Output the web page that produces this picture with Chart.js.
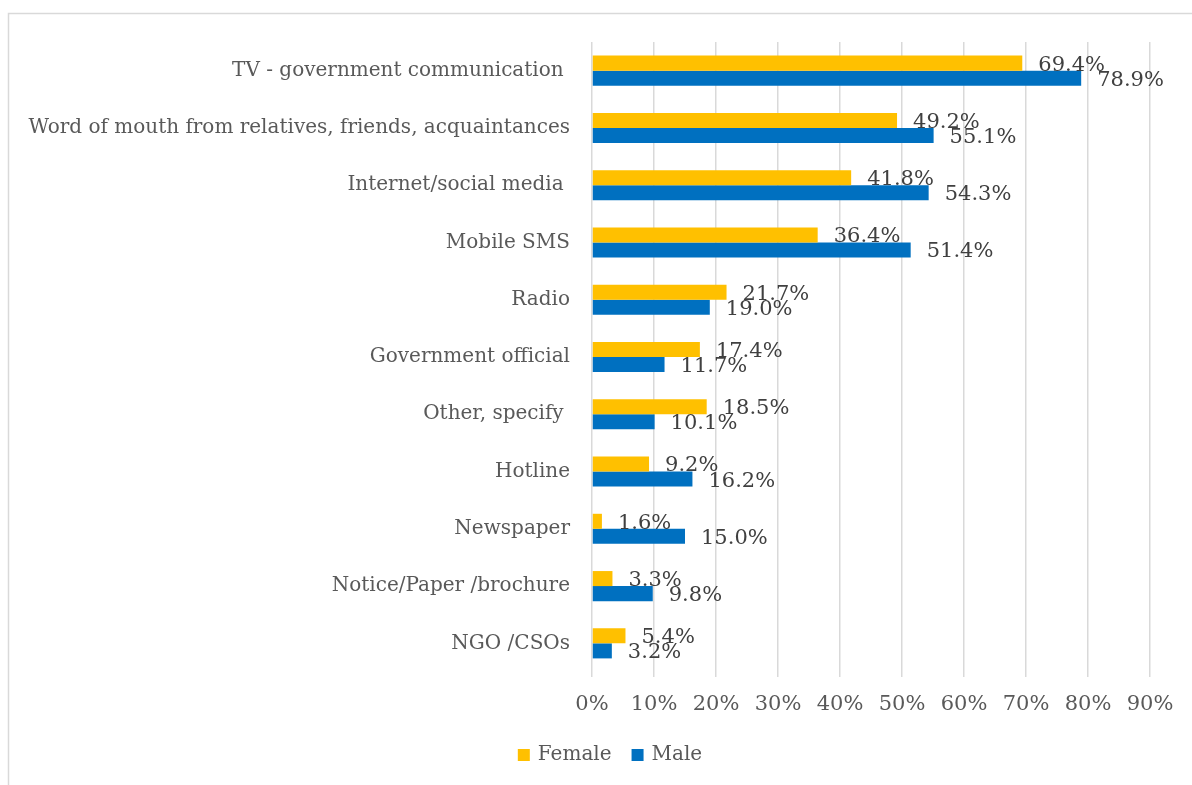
<!DOCTYPE html>
<html>
<head>
<meta charset="utf-8">
<script src="https://cdn.jsdelivr.net/npm/chart.js@4"></script>
<style>
html,body{margin:0;padding:0;background:#fff;}
#wrap{width:1192px;height:785px;position:relative;}
</style>
</head>
<body>
<div id="wrap"><canvas id="c" width="1192" height="785"></canvas></div>
<script>
const categories = [
  "TV - government communication ",
  "Word of mouth from relatives, friends, acquaintances",
  "Internet/social media ",
  "Mobile SMS",
  "Radio",
  "Government official",
  "Other, specify ",
  "Hotline",
  "Newspaper",
  "Notice/Paper /brochure",
  "NGO /CSOs"
];
const femaleValues = [69.4, 49.2, 41.8, 36.4, 21.7, 17.4, 18.5, 9.2, 1.6, 3.3, 5.4];
const maleValues   = [78.9, 55.1, 54.3, 51.4, 19.0, 11.7, 10.1, 16.2, 15.0, 9.8, 3.2];
const xTicks = [0, 10, 20, 30, 40, 50, 60, 70, 80, 90];

const FONT = "'DejaVu Serif', serif";

const framePlugin = {
  id: 'frame',
  beforeDraw(chart) {
    const ctx = chart.ctx;
    ctx.save();
    ctx.strokeStyle = '#d9d9d9';
    ctx.lineWidth = 1.5;
    ctx.strokeRect(8.5, 13.5, 1300, 900);
    ctx.restore();
  }
};

const labelPlugin = {
  id: 'barLabels',
  afterDatasetsDraw(chart) {
    const ctx = chart.ctx;
    ctx.save();
    ctx.font = "21px " + FONT;
    ctx.fillStyle = '#404040';
    ctx.textAlign = 'left';
    ctx.textBaseline = 'middle';
    chart.data.datasets.forEach((ds, di) => {
      const meta = chart.getDatasetMeta(di);
      meta.data.forEach((el, i) => {
        ctx.fillText(ds.data[i].toFixed(1) + '%', el.x + 16, el.y + 2);
      });
    });
    ctx.restore();
  }
};

const legendPlugin = {
  id: 'customLegend',
  afterDraw(chart) {
    const ctx = chart.ctx;
    ctx.save();
    ctx.font = "20px " + FONT;
    ctx.textBaseline = 'middle';
    ctx.textAlign = 'left';
    const box = 12, gap = 8, itemGap = 20;
    const items = chart.data.datasets.map(ds => ({ text: ds.label, color: ds.backgroundColor, w: ctx.measureText(ds.label).width }));
    let total = 0;
    items.forEach((it, i) => { total += box + gap + it.w + (i ? itemGap : 0); });
    let x = 610 - total / 2;
    const cy = 755;
    items.forEach((it) => {
      ctx.fillStyle = it.color;
      ctx.fillRect(x, cy - box / 2, box, box);
      ctx.fillStyle = '#595959';
      ctx.fillText(it.text, x + box + gap, cy);
      x += box + gap + it.w + itemGap;
    });
    ctx.restore();
  }
};

new Chart(document.getElementById('c'), {
  type: 'bar',
  data: {
    labels: categories,
    datasets: [
      { label: 'Female', data: femaleValues, backgroundColor: '#FFC000', borderWidth: 0,
        categoryPercentage: 0.525, barPercentage: 1.0 },
      { label: 'Male', data: maleValues, backgroundColor: '#0070C0', borderWidth: 0,
        categoryPercentage: 0.525, barPercentage: 1.0 }
    ]
  },
  options: {
    indexAxis: 'y',
    responsive: false,
    animation: false,
    layout: { padding: { top: 42, right: 42, bottom: 0, left: 0 } },
    scales: {
      x: {
        min: 0, max: 90,
        afterBuildTicks(scale) { scale.ticks = xTicks.map(v => ({ value: v })); },
        afterFit(scale) { scale.height = 785 - 672; },
        grid: { color: '#d9d9d9', lineWidth: 1.5, tickLength: 5, drawTicks: true },
        border: { display: false },
        ticks: {
          padding: 15,
          color: '#595959',
          font: { family: FONT, size: 21 },
          callback: (v) => v + '%'
        }
      },
      y: {
        afterFit(scale) { scale.width = 592; },
        grid: { display: false },
        border: { display: false },
        ticks: {
          padding: 14,
          color: '#595959',
          font: { family: FONT, size: 20 }
        }
      }
    },
    plugins: {
      legend: { display: false },
      tooltip: { enabled: false }
    }
  },
  plugins: [framePlugin, labelPlugin, legendPlugin]
});
</script>
</body>
</html>
